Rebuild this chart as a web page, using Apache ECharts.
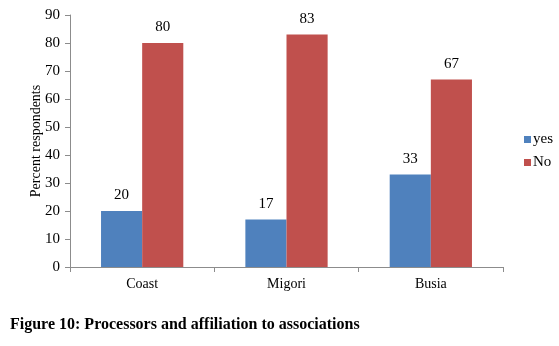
<!DOCTYPE html>
<html>
<head>
<meta charset="utf-8">
<script src="https://cdn.jsdelivr.net/npm/echarts@6/dist/echarts.min.js"></script>
<style>
  html, body { margin: 0; padding: 0; background: #fff; }
  #chart { width: 559px; height: 346px; }
</style>
</head>
<body>
<div id="chart"></div>
<script>
// Regions surveyed
const categories = ['Coast', 'Migori', 'Busia'];
// Share of processors affiliated to associations (%)
const yesValues = [20, 17, 33];
const noValues = [80, 83, 67];
const yTicks = { min: 0, max: 90, interval: 10 };

const serif = '"Liberation Serif", "Times New Roman", serif';
const axisGray = '#8c8c8c';

const chart = echarts.init(document.getElementById('chart'), null, { renderer: 'canvas' });

const labelStyle = {
  show: true,
  position: 'top',
  distance: 8,
  fontFamily: serif,
  fontSize: 15,
  color: '#000'
};

chart.setOption({
  animation: false,
  backgroundColor: '#fff',
  textStyle: { fontFamily: serif },
  grid: { left: 70, right: 56, top: 15, bottom: 79, containLabel: false },
  title: {
    text: 'Figure 10: Processors and affiliation to associations',
    left: 10,
    top: 317,
    padding: 0,
    textStyle: { fontFamily: serif, fontSize: 16, fontWeight: 'bold', color: '#000' }
  },
  legend: {
    orient: 'vertical',
    left: 519,
    top: 127,
    itemWidth: 7,
    itemHeight: 7,
    itemGap: 8,
    icon: 'rect',
    textStyle: { fontFamily: serif, fontSize: 15, color: '#000', padding: [0, 0, 0, -3] },
    data: ['yes', 'No']
  },
  xAxis: {
    type: 'category',
    data: categories,
    axisLine: { lineStyle: { color: axisGray, width: 1 } },
    axisTick: { show: true, alignWithLabel: false, length: 5, lineStyle: { color: axisGray } },
    axisLabel: { fontFamily: serif, fontSize: 14, color: '#000', margin: 10 }
  },
  yAxis: {
    type: 'value',
    min: yTicks.min,
    max: yTicks.max,
    interval: yTicks.interval,
    name: 'Percent respondents',
    nameLocation: 'middle',
    nameGap: 27,
    nameMoveOverlap: false,
    nameRotate: 90,
    nameTextStyle: { fontFamily: serif, fontSize: 14, color: '#000' },
    axisLine: { show: true, lineStyle: { color: axisGray, width: 1 } },
    axisTick: { show: true, length: 5, lineStyle: { color: axisGray } },
    axisLabel: { fontFamily: serif, fontSize: 15, color: '#000', margin: 10 },
    splitLine: { show: false }
  },
  series: [
    {
      name: 'yes',
      type: 'bar',
      data: yesValues,
      barGap: '0%',
      barCategoryGap: '43%',
      itemStyle: { color: '#4F81BD' },
      label: labelStyle
    },
    {
      name: 'No',
      type: 'bar',
      data: noValues,
      itemStyle: { color: '#C0504D' },
      label: labelStyle
    }
  ]
});
</script>
</body>
</html>
